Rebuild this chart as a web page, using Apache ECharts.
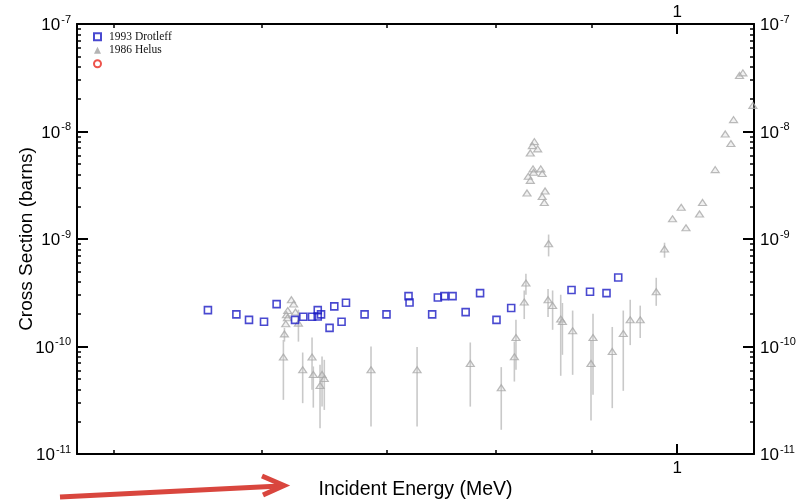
<!DOCTYPE html>
<html>
<head>
<meta charset="utf-8">
<script src="https://cdn.jsdelivr.net/npm/echarts@6/dist/echarts.min.js"></script>
<style>
  html, body { margin: 0; padding: 0; background: #fff; }
  #chart { width: 809px; height: 500px; }
</style>
</head>
<body>
<div id="chart"></div>
<script>
// Axis ranges and ticks
const xRange = [0.478, 1.099];
const yRange = [1e-11, 1e-7];
const xMinorTicks = [0.5, 0.6, 0.7, 0.8, 0.9];
const xMajorTicks = [1];
const yMajorTicks = [1e-11, 1e-10, 1e-9, 1e-8, 1e-7];
const yMinorTicks = [];
for (let d = -11; d < -7; d++) {
  for (let k = 2; k <= 9; k++) yMinorTicks.push(+(k * Math.pow(10, d)).toPrecision(3));
}

// 1993 Drotleff: energy (MeV), cross section (barns)
const drotleffE = [0.5615, 0.5815, 0.5906, 0.6016, 0.6110, 0.6250, 0.6314, 0.6382, 0.6427, 0.6427,
  0.6453, 0.6559, 0.6521, 0.6618, 0.6654, 0.6808, 0.6994, 0.7186, 0.7195, 0.7398,
  0.7450, 0.7510, 0.7586, 0.7709, 0.7847, 0.8007, 0.8153, 0.8781, 0.8983, 0.9167, 0.9300];
const drotleffSigma = [2.18e-10, 1.99e-10, 1.77e-10, 1.70e-10, 2.48e-10, 1.77e-10, 1.89e-10, 1.89e-10, 2.18e-10, 1.90e-10,
  1.99e-10, 2.36e-10, 1.49e-10, 1.70e-10, 2.55e-10, 1.99e-10, 1.99e-10, 2.94e-10, 2.57e-10, 1.99e-10,
  2.86e-10, 2.94e-10, 2.94e-10, 2.09e-10, 3.14e-10, 1.77e-10, 2.28e-10, 3.35e-10, 3.23e-10, 3.14e-10, 4.39e-10];

// 1986 Helus: energy (MeV), cross section (barns), error bar high / low (null = no bar)
const helusE = [0.6222, 0.6239, 0.6194, 0.6253, 0.6184, 0.6192, 0.6179, 0.6276, 0.6169, 0.6161,
  0.6309, 0.6382, 0.6392, 0.6461, 0.6479, 0.6445, 0.6862, 0.7262, 0.7753, 0.8054,
  0.8201, 0.8185, 0.8302, 0.8285, 0.8531, 0.8579, 0.8665, 0.8683, 0.8793, 0.9016,
  0.8994, 0.9232, 0.9358, 0.9438, 0.9555, 0.9745,
  0.8389, 0.8368, 0.8423, 0.8347, 0.8375, 0.8455, 0.8381, 0.8470, 0.8326, 0.8347,
  0.8313, 0.8500, 0.8470, 0.8492, 0.8537,
  0.9845, 0.9942, 1.0049, 1.0108, 1.0278, 1.0316, 1.0478, 1.0608, 1.0682, 1.0717,
  1.0796, 1.0841, 1.0975];
const helusSigma = [2.72e-10, 2.48e-10, 2.16e-10, 2.09e-10, 1.97e-10, 1.85e-10, 1.63e-10, 1.65e-10, 1.31e-10, 7.97e-11,
  6.07e-11, 7.97e-11, 5.49e-11, 5.49e-11, 5.04e-11, 4.33e-11, 6.07e-11, 6.07e-11, 6.95e-11, 4.13e-11,
  1.21e-10, 8.02e-11, 3.89e-10, 2.59e-10, 2.72e-10, 2.41e-10, 1.80e-10, 1.71e-10, 1.40e-10, 1.21e-10,
  6.95e-11, 8.98e-11, 1.32e-10, 1.77e-10, 1.77e-10, 3.23e-10,
  8.05e-9, 7.39e-9, 6.89e-9, 6.32e-9, 4.49e-9, 4.49e-9, 4.17e-9, 4.06e-9, 3.83e-9, 3.51e-9,
  2.68e-9, 2.80e-9, 2.49e-9, 2.19e-9, 9.04e-10,
  8.07e-10, 1.54e-9, 1.97e-9, 1.27e-9, 1.71e-9, 2.19e-9, 4.42e-9, 9.50e-9, 7.72e-9, 1.29e-8,
  3.32e-8, 3.51e-8, 1.75e-8];
const helusHigh = [null, null, null, null, null, null, null, 2.20e-10, 1.49e-10, 1.15e-10,
  8.79e-11, 1.21e-10, 6.52e-11, 8.07e-11, 7.52e-11, 6.76e-11, 1.0e-10, 9.9e-11, 1.09e-10, 6.43e-11,
  1.77e-10, 1.11e-10, 4.75e-10, 3.32e-10, 3.42e-10, 3.32e-10, 3.03e-10, 2.54e-10, 2.16e-10, 2.02e-10,
  1.15e-10, 1.52e-10, 2.16e-10, 2.72e-10, 2.40e-10, 4.36e-10,
  null, null, null, null, null, null, null, null, null, null,
  null, null, null, null, 1.10e-9,
  9.24e-10, null, null, null, null, null, null, null, null, null,
  null, null, null];
const helusLow = [null, null, null, null, null, null, null, 1.11e-10, 1.11e-10, 3.19e-11,
  2.97e-11, 3.95e-11, 2.70e-11, 2.76e-11, 2.57e-11, 1.74e-11, 1.80e-11, 1.80e-11, 2.76e-11, 1.68e-11,
  6.07e-11, 4.72e-11, 3.03e-10, 1.80e-10, 1.88e-10, 1.43e-10, 5.34e-11, 8.37e-11, 5.45e-11, 3.55e-11,
  2.05e-11, 2.67e-11, 3.87e-11, 1.03e-10, 1.20e-10, 2.39e-10,
  null, null, null, null, null, null, null, null, null, null,
  null, null, null, null, 6.89e-10,
  6.70e-10, null, null, null, null, null, null, null, null, null,
  null, null, null];

const drotleffData = drotleffE.map((e, i) => [e, drotleffSigma[i]]);
const helusData = helusE.map((e, i) => [e, helusSigma[i]]);
const helusBars = [];
helusE.forEach((e, i) => {
  if (helusHigh[i] != null) helusBars.push([e, helusSigma[i], helusLow[i], helusHigh[i]]);
});

const SANS = '"Liberation Sans", Arial, Helvetica, sans-serif';
const SERIF = '"Liberation Serif", "Times New Roman", serif';

function powLabel(v) {
  const exp = Math.round(Math.log10(v));
  return '{b|10}{s|' + exp + '}';
}
const powRich = {
  b: { fontFamily: SANS, fontSize: 17, color: '#000', lineHeight: 20, verticalAlign: 'bottom' },
  s: { fontFamily: SANS, fontSize: 11, color: '#000', lineHeight: 20, verticalAlign: 'top', padding: [0, 0, 0, 1] }
};

function xAxisMinor(pos) {
  return {
    type: 'log', logBase: 10, min: xRange[0], max: xRange[1], position: pos,
    axisLine: { show: true, onZero: false, lineStyle: { color: '#000', width: 2 } },
    axisTick: { show: true, inside: true, length: 4, customValues: xMinorTicks, lineStyle: { color: '#000', width: 1.5 } },
    axisLabel: { show: false },
    splitLine: { show: false }, minorTick: { show: false }
  };
}
function xAxisMajor(pos) {
  return {
    type: 'log', logBase: 10, min: xRange[0], max: xRange[1], position: pos,
    axisLine: { show: false },
    axisTick: { show: true, inside: true, length: 10, customValues: xMajorTicks, lineStyle: { color: '#000', width: 2 } },
    axisLabel: { show: true, customValues: xMajorTicks, formatter: v => String(Math.round(v)), fontFamily: SANS, fontSize: 17, color: '#000', margin: pos === 'top' ? 3 : 6 },
    splitLine: { show: false }, minorTick: { show: false }
  };
}
function yAxisMinor(pos) {
  return {
    type: 'log', logBase: 10, min: yRange[0], max: yRange[1], position: pos,
    axisLine: { show: true, onZero: false, lineStyle: { color: '#000', width: 2 } },
    axisTick: { show: true, inside: true, length: 4, customValues: yMinorTicks, lineStyle: { color: '#000', width: 1.5 } },
    axisLabel: { show: false },
    splitLine: { show: false }, minorTick: { show: false }
  };
}
function yAxisMajor(pos, withName) {
  const ax = {
    type: 'log', logBase: 10, min: yRange[0], max: yRange[1], position: pos,
    axisLine: { show: false },
    axisTick: { show: true, inside: true, length: 11, customValues: yMajorTicks, lineStyle: { color: '#000', width: 2 } },
    axisLabel: { show: true, customValues: yMajorTicks, formatter: powLabel, rich: powRich, margin: 6 },
    splitLine: { show: false }, minorTick: { show: false }
  };
  if (withName) {
    ax.name = 'Cross Section (barns)';
    ax.nameLocation = 'middle';
    ax.nameGap = 41;
    ax.nameMoveOverlap = false;
    ax.nameTextStyle = { fontFamily: SANS, fontSize: 19, color: '#000' };
  }
  return ax;
}

const xBottomMajor = xAxisMajor('bottom');
xBottomMajor.name = 'Incident Energy (MeV)';
xBottomMajor.nameLocation = 'middle';
xBottomMajor.nameGap = 26;
xBottomMajor.nameMoveOverlap = false;
xBottomMajor.nameTextStyle = { fontFamily: SANS, fontSize: 19.5, color: '#000' };

const chart = echarts.init(document.getElementById('chart'), null, { renderer: 'canvas' });
chart.setOption({
  backgroundColor: '#fff',
  animation: false,
  grid: { left: 77, top: 24, width: 677, height: 430, containLabel: false, outerBoundsMode: 'none' },
  legend: {
    orient: 'vertical', left: 88, top: 25, itemWidth: 7, itemHeight: 7, itemGap: 0,
    textStyle: { fontFamily: SERIF, fontSize: 11.5, lineHeight: 13.5, color: '#111', padding: [0, 0, 0, 3] },
    data: [
      { name: '1993 Drotleff', icon: 'rect' },
      { name: '1986 Helus', icon: 'triangle' },
      { name: ' ', icon: 'circle' }
    ]
  },
  xAxis: [xAxisMinor('bottom'), xBottomMajor, xAxisMinor('top'), xAxisMajor('top')],
  yAxis: [yAxisMinor('left'), yAxisMajor('left', true), yAxisMinor('right'), yAxisMajor('right', false)],
  series: [
    {
      name: '1986 Helus', type: 'custom', xAxisIndex: 0, yAxisIndex: 0,
      data: helusBars, encode: { x: 0, y: [1, 2, 3] }, clip: true, z: 1,
      renderItem: function (params, api) {
        const top = api.coord([api.value(0), api.value(3)]);
        const bot = api.coord([api.value(0), api.value(2)]);
        return {
          type: 'line',
          shape: { x1: top[0], y1: top[1], x2: bot[0], y2: bot[1] },
          style: { stroke: '#c9c9c9', lineWidth: 1.6 }
        };
      },
      itemStyle: { color: '#b4b4b4' }
    },
    {
      name: '1986 Helus', type: 'scatter', xAxisIndex: 0, yAxisIndex: 0,
      data: helusData, symbol: 'triangle', symbolSize: [8, 6], clip: true, z: 2,
      itemStyle: { color: 'rgba(205,205,205,0.35)', borderColor: '#a9a9a9', borderWidth: 1.2 }
    },
    {
      name: '1993 Drotleff', type: 'scatter', xAxisIndex: 0, yAxisIndex: 0,
      data: drotleffData, symbol: 'rect', symbolSize: 7, clip: true, z: 3,
      itemStyle: { color: 'rgba(255,255,255,0)', borderColor: '#1c1cc4', borderWidth: 1.6 }
    },
    {
      name: ' ', type: 'scatter', xAxisIndex: 0, yAxisIndex: 0,
      data: [], symbol: 'circle', symbolSize: 7,
      itemStyle: { color: 'rgba(255,255,255,0)', borderColor: '#e8281e', borderWidth: 1.6 }
    }
  ],
  graphic: [
    {
      type: 'line', silent: true,
      shape: { x1: 60, y1: 497, x2: 280, y2: 486 },
      style: { stroke: '#d9463e', lineWidth: 5 }
    },
    {
      type: 'polyline', silent: true,
      shape: { points: [[262, 476], [284, 485.5], [263, 495]] },
      style: { stroke: '#d9463e', lineWidth: 5, fill: null, lineJoin: 'miter' }
    }
  ]
});
</script>
</body>
</html>
